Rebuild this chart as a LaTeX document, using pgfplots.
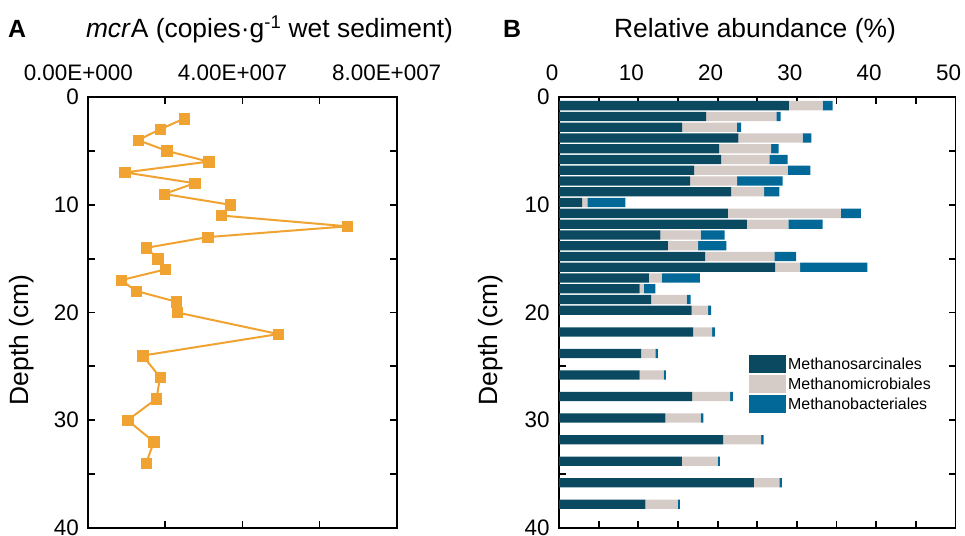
\documentclass[border=0pt]{standalone}
\usepackage{fontspec}
\setmainfont{Liberation Sans}
\usepackage{pgfplots}
\pgfplotsset{compat=1.18}
\usepackage{pgfplotstable}

\definecolor{mcrorange}{RGB}{240,163,48}
\definecolor{sarc}{RGB}{11,73,96}
\definecolor{micro}{RGB}{213,203,199}
\definecolor{bact}{RGB}{2,104,152}

% mcrA gene copies per gram wet sediment
\pgfplotstableread{
depth copies
2  2.49e7
3  1.86e7
4  1.29e7
5  2.04e7
6  3.12e7
7  0.95e7
8  2.76e7
9  1.97e7
10 3.68e7
11 3.45e7
12 6.72e7
13 3.10e7
14 1.50e7
15 1.80e7
16 2.00e7
17 0.85e7
18 1.24e7
19 2.28e7
20 2.31e7
22 4.93e7
24 1.41e7
26 1.86e7
28 1.77e7
30 1.02e7
32 1.70e7
34 1.50e7
}\mcrdata

% relative abundance (%) of the three orders
\pgfplotstableread{
depth sarc  micro bact
0.8   29.00 4.25  1.25
1.8   18.56 8.84  0.56
2.8   15.54 6.88  0.55
3.8   22.63 8.10  1.10
4.8   20.20 6.55  0.95
5.8   20.45 6.08  2.31
6.8   17.05 11.79 2.86
7.8   16.55 5.91  5.74
8.8   21.70 4.17  1.93
9.8   2.90  0.67  4.79
10.8  21.29 14.27 2.52
11.8  23.70 5.23  4.32
12.8  12.77 5.08  3.05
13.8  13.73 3.82  3.57
14.8  18.43 8.74  2.73
15.8  27.25 3.15  8.50
16.8  11.34 1.59  4.83
17.8  10.16 0.54  1.44
18.8  11.63 4.45  0.52
19.8  16.71 2.10  0.38
21.8  16.92 2.38  0.35
23.8  10.37 1.77  0.33
25.8  10.16 3.03  0.29
27.8  16.80 4.78  0.33
29.8  13.40 4.45  0.34
31.8  20.70 4.79  0.31
33.8  15.50 4.50  0.30
35.8  24.56 3.24  0.30
37.8  10.88 4.11  0.25
}\orderdata

\pgfplotsset{
  depthaxis/.style={
    scale only axis,
    y dir=reverse,
    ymin=0, ymax=40,
    ytick={0,5,...,40},
    yticklabels={0,,10,,20,,30,,40},
    axis line style={line width=1.8bp},
    tick style={line width=1.8bp, black},
    major tick length=7bp,
    xticklabel pos=upper,
    tick label style={font=\fontsize{22.5}{26}\selectfont},
    xticklabel style={anchor=base, yshift=17bp},
    yticklabel style={xshift=-6bp},
  }
}

\begin{document}
\begin{tikzpicture}
\useasboundingbox (0bp,0bp) rectangle (965bp,536bp);

% panel A
\begin{axis}[depthaxis,
  at={(88.3bp,8bp)}, anchor=south west,
  width=308.4bp, height=431bp,
  xmin=0, xmax=8e7,
  xtick={0,2e7,4e7,6e7,8e7},
  xticklabels={0.00E+000,,4.00E+007,,8.00E+007},
  scaled x ticks=false,
  xticklabel style={xshift=-10bp},
]
\addplot[mcrorange, line width=2bp, mark=square*, mark size=5.2bp,
  mark options={fill=mcrorange, draw=mcrorange, line width=0.5bp}]
  table[x=copies, y=depth] {\mcrdata};
\end{axis}

% panel B
\begin{axis}[depthaxis,
  at={(559bp,8bp)}, anchor=south west,
  width=396.5bp, height=431bp,
  xmin=0, xmax=50,
  xtick={0,5,...,50},
  xticklabels={0,,10,,20,,30,,40,,50},
  xticklabel style={xshift=-7bp},
  xbar stacked, bar width=0.86,
  legend style={at={(0.479,0.401)}, anchor=north west, draw=none, fill=none,
    font=\fontsize{16}{18}\selectfont, row sep=2bp, inner sep=0pt,
    cells={anchor=west}},
  legend image code/.code={\fill[#1] (0bp,-9bp) rectangle (37bp,9bp);},
]
\addplot[fill=sarc, draw=none] table[x=sarc, y=depth] {\orderdata};
\addplot[fill=micro, draw=none] table[x=micro, y=depth] {\orderdata};
\addplot[fill=bact, draw=none] table[x=bact, y=depth] {\orderdata};
\legend{Methanosarcinales, Methanomicrobiales, Methanobacteriales}
\end{axis}

% titles and labels
\node[anchor=base west, inner sep=0pt, font=\bfseries\fontsize{25}{30}\selectfont] at (8bp,498bp) {A};
\node[anchor=base west, inner sep=0pt, font=\bfseries\fontsize{25}{30}\selectfont] at (503bp,498bp) {B};
\node[anchor=base, inner sep=0pt, font=\fontsize{26.5}{30}\selectfont] at (269.5bp,498bp)
  {\textit{mcr}A (copies·g\textsuperscript{-1} wet sediment)};
\node[anchor=base, inner sep=0pt, font=\fontsize{26.5}{30}\selectfont] at (755bp,498bp)
  {Relative abundance (\%)};
\node[rotate=90, inner sep=0pt, font=\fontsize{26.5}{30}\selectfont] at (22bp,196bp) {Depth (cm)};
\node[rotate=90, inner sep=0pt, font=\fontsize{26.5}{30}\selectfont] at (491bp,196bp) {Depth (cm)};
\end{tikzpicture}
\end{document}
